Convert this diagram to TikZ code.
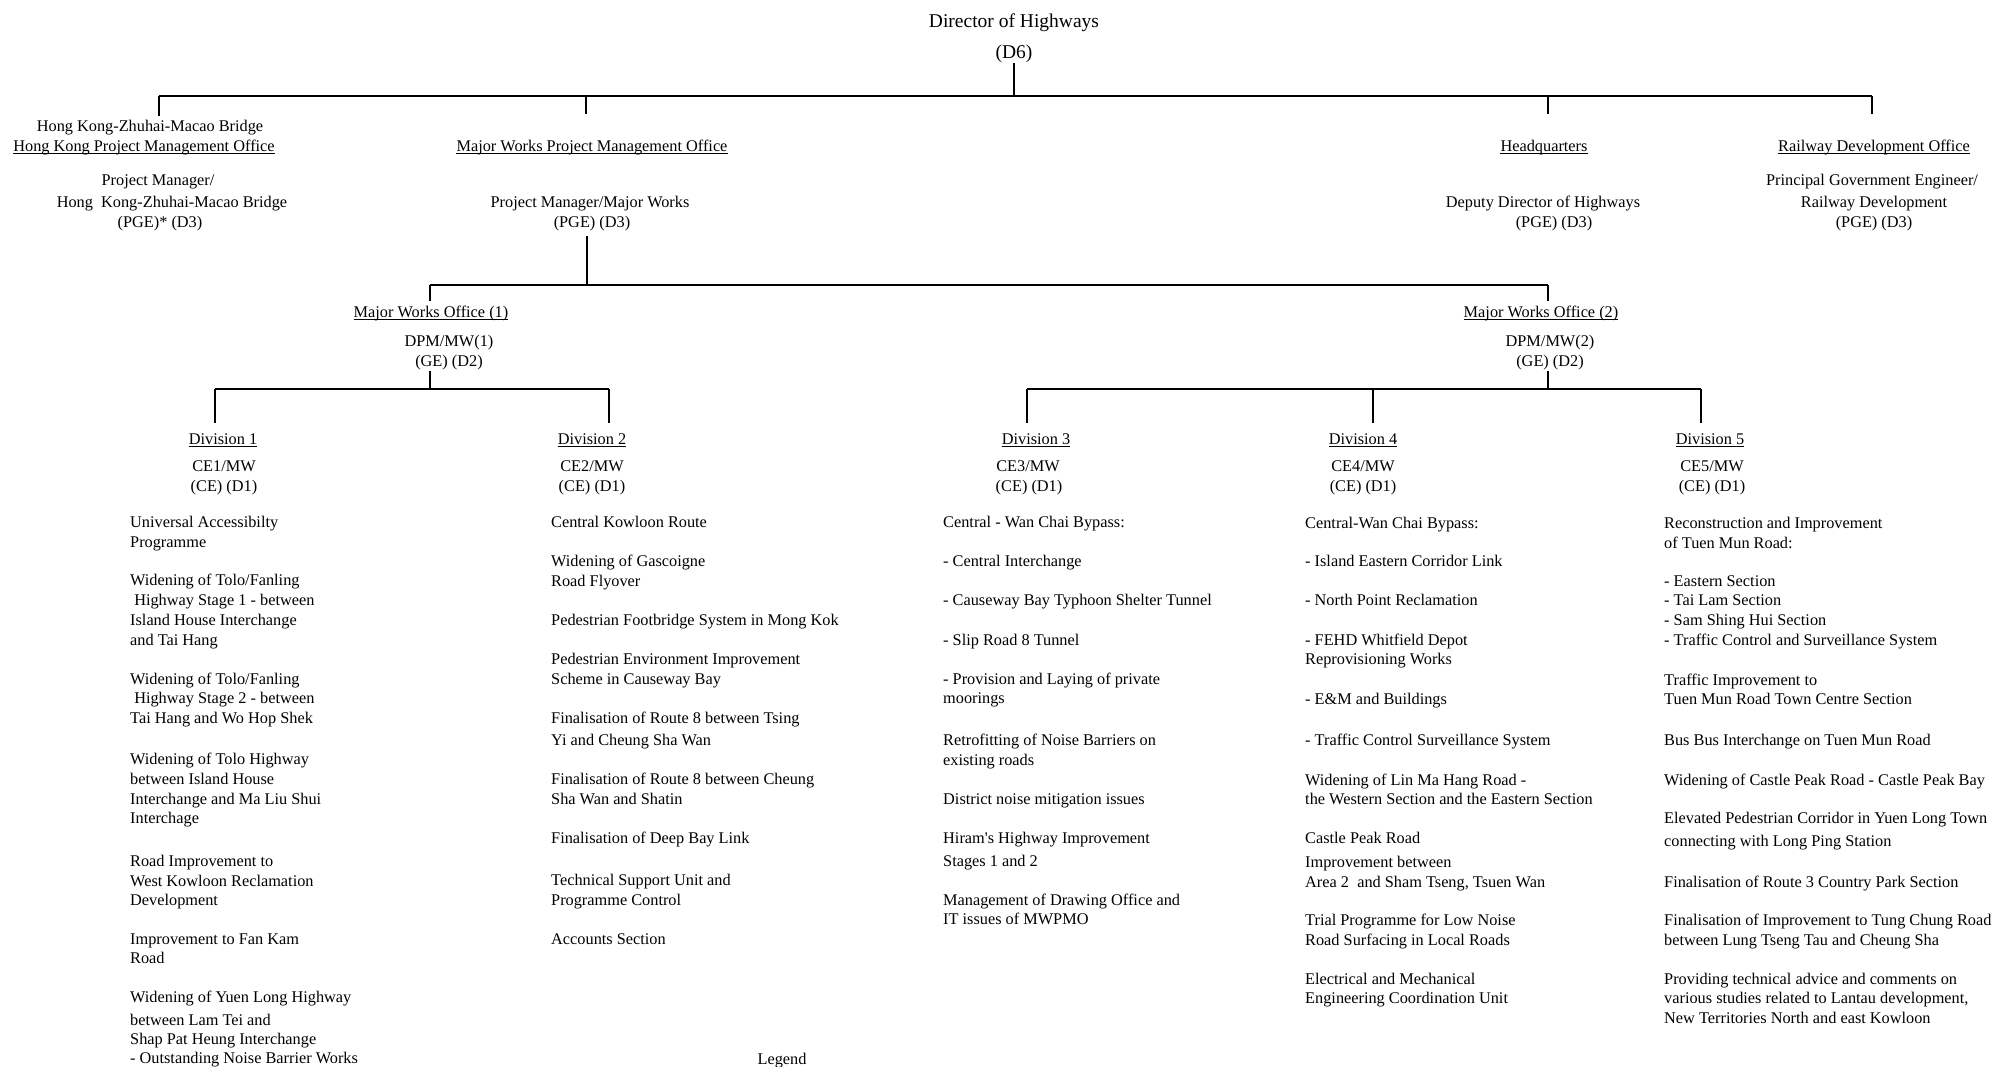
\documentclass[tikz,border=0pt]{standalone}
\usepackage{fontspec}
\setmainfont{Liberation Serif}
\begin{document}
\begin{tikzpicture}[x=1pt,y=-1pt,
  txt/.style={inner sep=0pt,anchor=base,font=\fontsize{16.3}{19.6}\selectfont},
  ttl/.style={inner sep=0pt,anchor=base,font=\fontsize{19.5}{23}\selectfont},
  item/.style={inner sep=0pt,anchor=base west,font=\fontsize{16.3}{19.6}\selectfont},
  vl/.style={line width=1.3pt},
  hl/.style={line width=2pt},
  ulin/.style={line width=0.9pt}]
\useasboundingbox (0,0) rectangle (1993,1066);
\newcommand\itemlist[3]{%
  \foreach \yy/\txt [count=\i] in {#3} {\node[item] (#1\i) at (#2,\yy+5.5) {\txt};}}
% title
\node[ttl] (dh) at (1014,27) {Director of Highways};
\node[ttl] (d6) at (1014,58) {(D6)};
% level 1
\node[txt] (hz1) at (150,131.5) {Hong Kong-Zhuhai-Macao Bridge};
\node[txt] (hz2) at (144,151.5) {Hong Kong Project Management Office};
\node[txt] (hz3) at (158,185.5) {Project Manager/};
\node[txt] (hz4) at (172,207.5) {Hong\ \ Kong-Zhuhai-Macao Bridge};
\node[txt] (hz5) at (160,227.5) {(PGE)* (D3)};
\node[txt] (mw1) at (592,151.5) {Major Works Project Management Office};
\node[txt] (mw2) at (590,207.5) {Project Manager/Major Works};
\node[txt] (mw3) at (592,227.5) {(PGE) (D3)};
\node[txt] (hq1) at (1544,151.5) {Headquarters};
\node[txt] (hq2) at (1543,207.5) {Deputy Director of Highways};
\node[txt] (hq3) at (1554,227.5) {(PGE) (D3)};
\node[txt] (rd1) at (1874,151.5) {Railway Development Office};
\node[txt] (rd2) at (1872,185.5) {Principal Government Engineer/};
\node[txt] (rd3) at (1874,207.5) {Railway Development};
\node[txt] (rd4) at (1874,227.5) {(PGE) (D3)};
% level 2
\node[txt] (o1a) at (431,317.5) {Major Works Office (1)};
\node[txt] (o1b) at (449,346.5) {DPM/MW(1)};
\node[txt] (o1c) at (449,366.5) {(GE) (D2)};
\node[txt] (o2a) at (1541,317.5) {Major Works Office (2)};
\node[txt] (o2b) at (1550,346.5) {DPM/MW(2)};
\node[txt] (o2c) at (1550,366.5) {(GE) (D2)};
% level 3
\node[txt] (dv1) at (223,444.5) {Division 1};
\node[txt] (ce1) at (224,471.5) {CE1/MW};
\node[txt] (gr1) at (224,491.5) {(CE) (D1)};
\node[txt] (dv2) at (592,444.5) {Division 2};
\node[txt] (ce2) at (592,471.5) {CE2/MW};
\node[txt] (gr2) at (592,491.5) {(CE) (D1)};
\node[txt] (dv3) at (1036,444.5) {Division 3};
\node[txt] (ce3) at (1028,471.5) {CE3/MW};
\node[txt] (gr3) at (1029,491.5) {(CE) (D1)};
\node[txt] (dv4) at (1363,444.5) {Division 4};
\node[txt] (ce4) at (1363,471.5) {CE4/MW};
\node[txt] (gr4) at (1363,491.5) {(CE) (D1)};
\node[txt] (dv5) at (1710,444.5) {Division 5};
\node[txt] (ce5) at (1712,471.5) {CE5/MW};
\node[txt] (gr5) at (1712,491.5) {(CE) (D1)};
% underlines
\foreach \n in {hz2,mw1,hq1,rd1,o1a,o2a,dv1,dv2,dv3,dv4,dv5}
  \draw[ulin] ([yshift=-2.3pt]\n.base west) -- ([yshift=-2.3pt]\n.base east);
% connector coordinates
\coordinate (tbL) at (159,96);
\coordinate (tbR) at (1872,96);
\coordinate (tbC) at (1014,96);
\coordinate (mbL) at (430,285);
\coordinate (mbR) at (1548,285);
\coordinate (mbC) at (587,285);
\coordinate (abL) at (215,389);
\coordinate (abR) at (609,389);
\coordinate (abC) at (430,389);
\coordinate (bbL) at (1027,389);
\coordinate (bbM) at (1373,389);
\coordinate (bbR) at (1701,389);
\coordinate (bbC) at (1548,389);
% top level
\draw[vl] ([yshift=-5pt]d6.base) -- (tbC);
\draw[hl] (tbL) -- (tbR);
\draw[vl] (tbL) -- ([yshift=4pt]tbL |- hz1.north);
\draw[vl] (tbL -| mw3) ++(-6,0) coordinate (dmw) -- (dmw |- 0,114);
\draw[vl] (tbR -| hq3) ++(-6,0) coordinate (dhq) -- (dhq |- 0,114);
\draw[vl] (tbR) -- (tbR |- 0,114);
% MWPMO
\draw[vl] (mw3.south -| mbC) ++(0,5) -- (mbC);
\draw[hl] (mbL) -- (mbR);
\draw[vl] (mbL) -- (mbL |- 0,301);
\draw[vl] (mbR) -- (mbR |- 0,301);
% MWO1
\draw[vl] (abC |- 0,371) -- (abC);
\draw[hl] (abL) -- (abR);
\draw[vl] (abL) -- (abL |- 0,423);
\draw[vl] (abR) -- (abR |- 0,423);
% MWO2
\draw[vl] (bbC |- 0,371) -- (bbC);
\draw[hl] (bbL) -- (bbR);
\draw[vl] (bbL) -- (bbL |- 0,423);
\draw[vl] (bbM) -- (bbM |- 0,423);
\draw[vl] (bbR) -- (bbR |- 0,423);
% lists
\itemlist{da}{130}{522/{Universal Accessibilty},542/{Programme},580/{Widening of Tolo/Fanling},600/{\ Highway Stage 1 - between},620/{Island House Interchange},640/{and Tai Hang},679/{Widening of Tolo/Fanling},698/{\ Highway Stage 2 - between},718/{Tai Hang and Wo Hop Shek},759/{Widening of Tolo Highway},779/{between Island House},799/{Interchange and Ma Liu Shui},818/{Interchage},861/{Road Improvement to},881/{West Kowloon Reclamation},900/{Development},939/{Improvement to Fan Kam},958/{Road},997/{Widening of Yuen Long Highway},1020/{between Lam Tei and},1039/{Shap Pat Heung Interchange},1058/{- Outstanding Noise Barrier Works}}
\itemlist{db}{551}{522/{Central Kowloon Route},561/{Widening of Gascoigne},581/{Road Flyover},620/{Pedestrian Footbridge System in Mong Kok},659/{Pedestrian Environment Improvement},679/{Scheme in Causeway Bay},718/{Finalisation of Route 8 between Tsing},740/{Yi and Cheung Sha Wan},779/{Finalisation of Route 8 between Cheung},799/{Sha Wan and Shatin},838/{Finalisation of Deep Bay Link},880/{Technical Support Unit and},900/{Programme Control},939/{Accounts Section}}
\itemlist{dc}{943}{522/{Central - Wan Chai Bypass:},561/{- Central Interchange},600/{- Causeway Bay Typhoon Shelter Tunnel},640/{- Slip Road 8 Tunnel},679/{- Provision and Laying of private},698/{moorings},740/{Retrofitting of Noise Barriers on},760/{existing roads},799/{District noise mitigation issues},838/{Hiram\textquotesingle s Highway Improvement},861/{Stages 1 and 2},900/{Management of Drawing Office and},919/{IT issues of MWPMO}}
\itemlist{dd}{1305}{523/{Central-Wan Chai Bypass:},561/{- Island Eastern Corridor Link},600/{- North Point Reclamation},640/{- FEHD Whitfield Depot},659/{Reprovisioning Works},699/{- E\&M and Buildings},740/{- Traffic Control Surveillance System},780/{Widening of Lin Ma Hang Road -},799/{the Western Section and the Eastern Section},838/{Castle Peak Road},862/{Improvement between},882/{Area 2\ \ and Sham Tseng, Tsuen Wan},920/{Trial Programme for Low Noise},940/{Road Surfacing in Local Roads},979/{Electrical and Mechanical},998/{Engineering Coordination Unit}}
\itemlist{de}{1664}{523/{Reconstruction and Improvement},543/{of Tuen Mun Road:},581/{- Eastern Section},600/{- Tai Lam Section},620/{- Sam Shing Hui Section},640/{- Traffic Control and Surveillance System},680/{Traffic Improvement to},699/{Tuen Mun Road Town Centre Section},740/{Bus Bus Interchange on Tuen Mun Road},780/{Widening of Castle Peak Road - Castle Peak Bay},818/{Elevated Pedestrian Corridor in Yuen Long Town},841/{connecting with Long Ping Station},882/{Finalisation of Route 3 Country Park Section},920/{Finalisation of Improvement to Tung Chung Road},940/{between Lung Tseng Tau and Cheung Sha},979/{Providing technical advice and comments on},998/{various studies related to Lantau development,},1018/{New Territories North and east Kowloon}}
\node[txt] (legend) at (782,1064.5) {Legend};
\end{tikzpicture}
\end{document}
